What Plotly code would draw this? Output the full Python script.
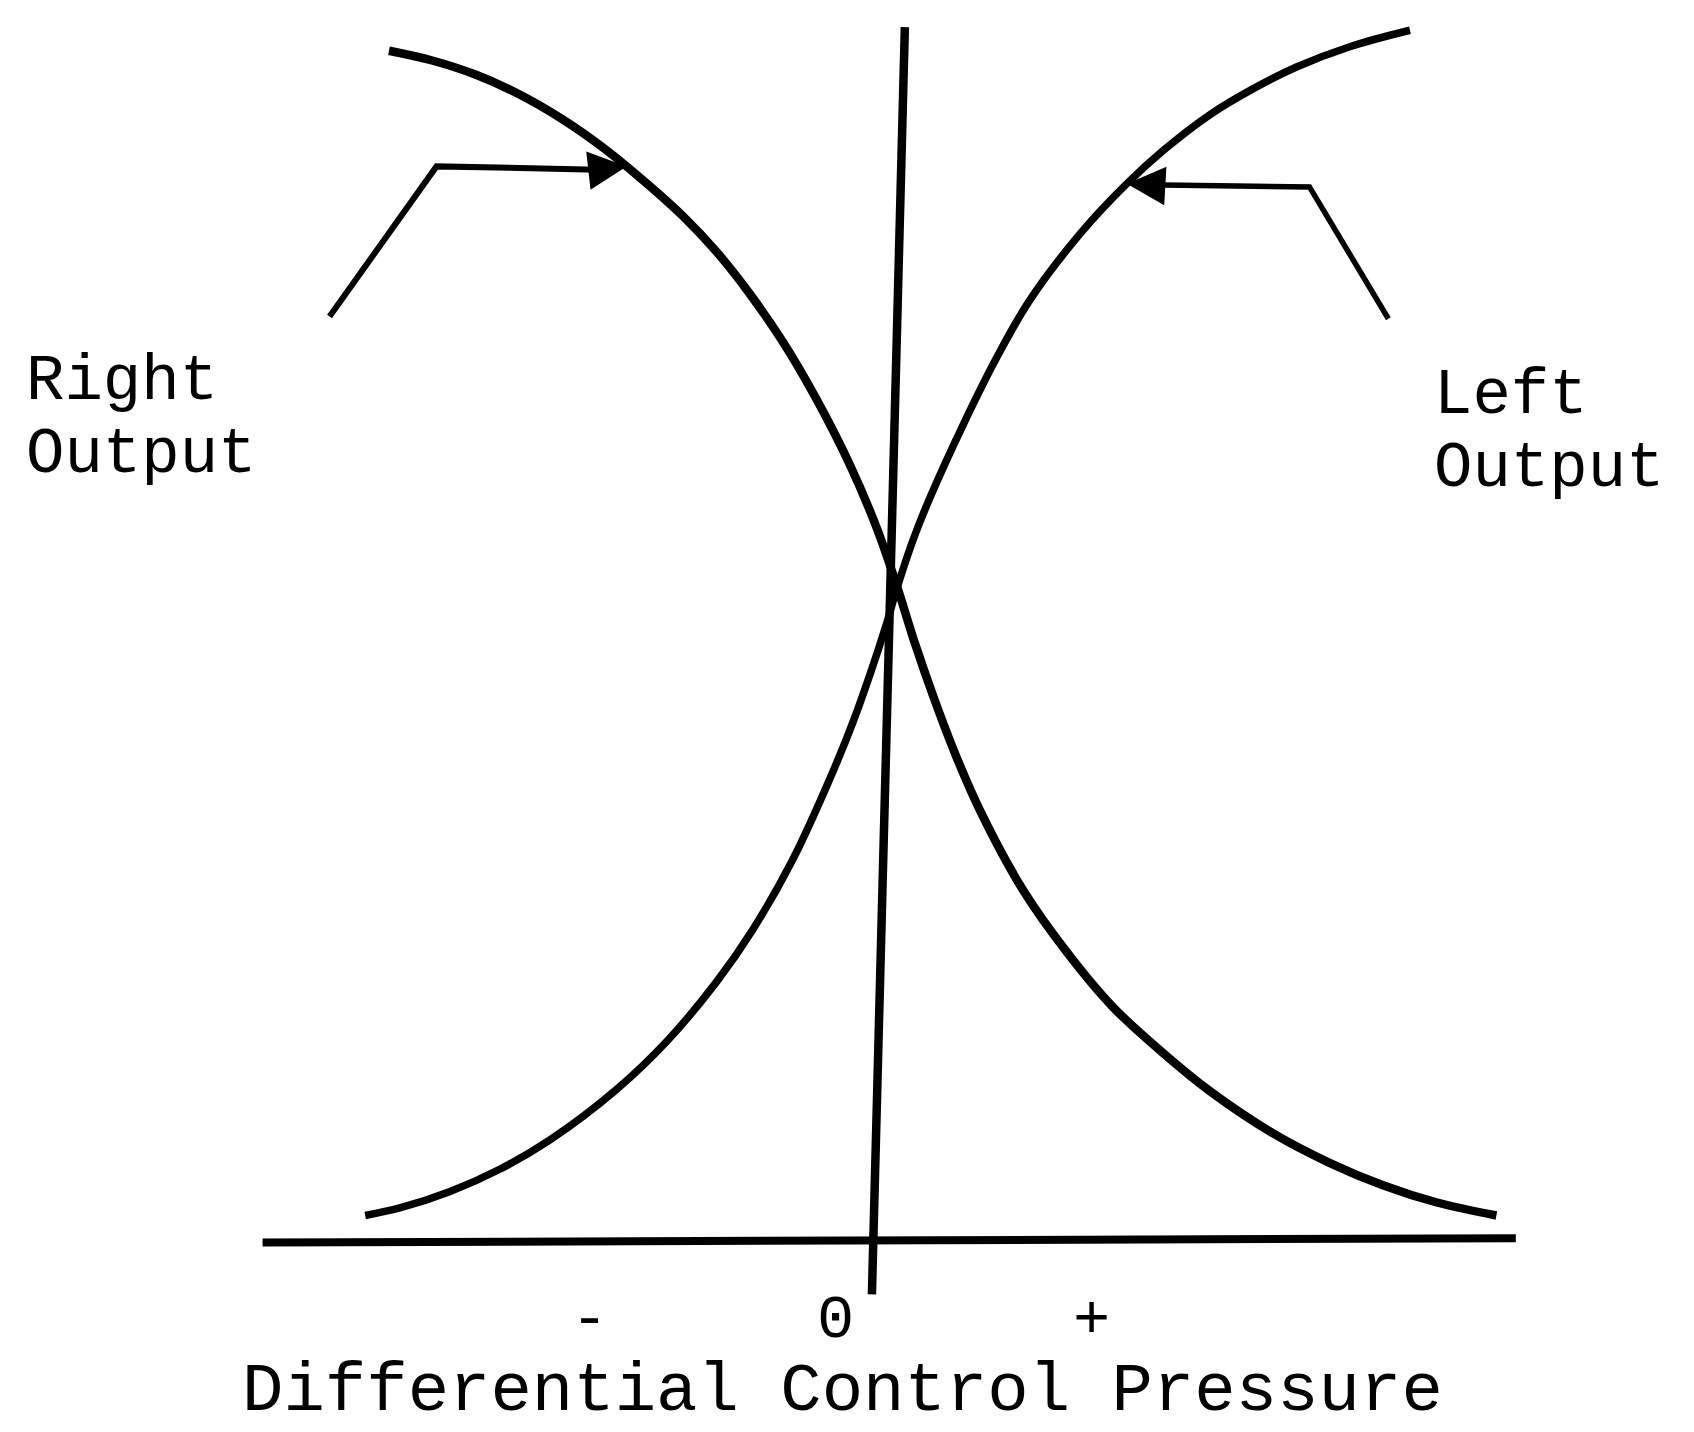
import plotly.graph_objects as go

# Differential control pressure (arbitrary units, 0 = centre) and output (arbitrary units)
right_x = [-4.48, -4.08, -3.68, -3.28, -2.88, -2.48, -2.08, -1.76, -1.44, -1.14, -0.83, -0.52,
           -0.21, 0.04, 0.22, 0.39, 0.56, 0.77, 0.99, 1.39, 1.80, 2.22, 2.69, 3.12,
           3.72, 4.22, 4.72, 5.22, 5.77]
right_y = [11.01, 10.92, 10.79, 10.61, 10.38, 10.10, 9.77, 9.48, 9.14, 8.76, 8.31, 7.78,
           7.17, 6.58, 6.06, 5.52, 5.03, 4.48, 3.98, 3.24, 2.66, 2.16, 1.73, 1.38,
           0.98, 0.72, 0.51, 0.35, 0.23]

left_x = [-4.70, -4.38, -3.92, -3.45, -2.99, -2.37, -1.91, -1.45, -1.11, -0.74, -0.37, -0.18,
          -0.02, 0.12, 0.22, 0.37, 0.53, 0.84, 1.15, 1.45, 1.92, 2.35, 2.69, 3.12,
          3.52, 3.92, 4.42, 4.97]
left_y = [0.23, 0.30, 0.45, 0.66, 0.93, 1.40, 1.84, 2.39, 2.88, 3.53, 4.34, 4.81,
          5.26, 5.69, 6.03, 6.48, 6.88, 7.56, 8.18, 8.70, 9.32, 9.78, 10.09, 10.42,
          10.66, 10.86, 11.05, 11.20]

# axes of the sketch
h_axis_x = [-5.65, 5.95]
h_axis_y = [-0.02, 0.02]
v_axis_x = [0.295, -0.01]
v_axis_y = [11.23, -0.50]

# leader lines for the labels
right_leader_x = [-5.03, -4.04, -2.55]
right_leader_y = [8.55, 9.94, 9.91]
right_tip = (-2.28, 9.94)
left_leader_x = [4.77, 4.04, 2.52]
left_leader_y = [8.53, 9.75, 9.77]
left_tip = (2.35, 9.78)

tick_labels = ["-", "0", "+"]
tick_pos = [-2.62, -0.35, 2.02]
x_title = "Differential Control Pressure"

FONT = "Liberation Mono, Courier New, monospace"
BLACK = "#000000"

fig = go.Figure()

fig.add_trace(go.Scatter(x=h_axis_x, y=h_axis_y, mode="lines",
                         line=dict(color=BLACK, width=8), hoverinfo="skip"))
fig.add_trace(go.Scatter(x=v_axis_x, y=v_axis_y, mode="lines",
                         line=dict(color=BLACK, width=8.5), hoverinfo="skip"))
fig.add_trace(go.Scatter(x=right_x, y=right_y, mode="lines",
                         line=dict(color=BLACK, width=8.5, shape="spline", smoothing=1.0),
                         name="Right Output"))
fig.add_trace(go.Scatter(x=left_x, y=left_y, mode="lines",
                         line=dict(color=BLACK, width=7.5, shape="spline", smoothing=1.0),
                         name="Left Output"))
fig.add_trace(go.Scatter(x=right_leader_x, y=right_leader_y, mode="lines",
                         line=dict(color=BLACK, width=6), hoverinfo="skip"))
fig.add_trace(go.Scatter(x=left_leader_x, y=left_leader_y, mode="lines",
                         line=dict(color=BLACK, width=5.5), hoverinfo="skip"))

annotations = []
# arrowheads (shaft starts where the leader line ends)
annotations.append(dict(x=right_tip[0], y=right_tip[1], ax=right_leader_x[-1], ay=right_leader_y[-1],
                        xref="x", yref="y", axref="x", ayref="y", text="", showarrow=True,
                        arrowhead=2, arrowsize=1.4, arrowwidth=5.5, arrowcolor=BLACK, standoff=0))
annotations.append(dict(x=left_tip[0], y=left_tip[1], ax=left_leader_x[-1], ay=left_leader_y[-1],
                        xref="x", yref="y", axref="x", ayref="y", text="", showarrow=True,
                        arrowhead=2, arrowsize=1.4, arrowwidth=5.5, arrowcolor=BLACK, standoff=0))


def label(text, x, y, size, xanchor="left"):
    return dict(x=x, y=y, xref="x", yref="y", text=text, showarrow=False,
                xanchor=xanchor, yanchor="middle",
                font=dict(family=FONT, size=size, color=BLACK))


annotations.append(label("Right", -7.86, 7.945, 64))
annotations.append(label("Output", -7.86, 7.265, 64))
annotations.append(label("Left", 5.17, 7.815, 64))
annotations.append(label("Output", 5.17, 7.135, 64))
for t, p in zip(tick_labels, tick_pos):
    annotations.append(label(t, p, -0.74, 62, xanchor="center"))
annotations.append(label(x_title, -5.86, -1.40, 69))

fig.update_layout(
    width=1686, height=1424,
    margin=dict(l=0, r=0, t=0, b=0),
    paper_bgcolor="white", plot_bgcolor="white",
    showlegend=False,
    annotations=annotations,
    xaxis=dict(range=[-8.006, 7.599], visible=False, fixedrange=True),
    yaxis=dict(range=[-1.774, 11.406], visible=False, fixedrange=True),
)

fig.write_html("out.html")
